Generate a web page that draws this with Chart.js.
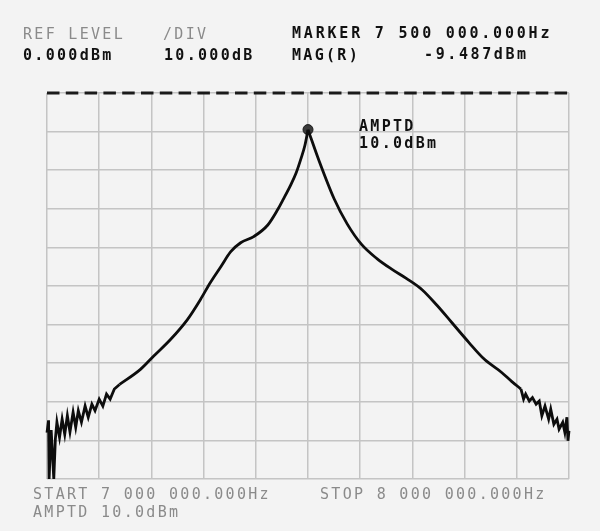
<!DOCTYPE html>
<html>
<head>
<meta charset="utf-8">
<script src="https://cdn.jsdelivr.net/npm/chart.js@4/dist/chart.umd.min.js"></script>
<style>
  html, body { margin: 0; padding: 0; background: #f3f3f3; }
  #wrap { position: relative; width: 600px; height: 531px; }
  canvas { position: absolute; left: 0; top: 0; }
  .t { position: absolute; font-family: "DejaVu Sans Mono", monospace; font-size: 15px;
       letter-spacing: 2.3px; line-height: 1; white-space: pre; }
  .g { color: #8a8a8a; }
  .k { color: #111; font-weight: bold; }
</style>
</head>
<body>
<div id="wrap">
  <canvas id="c" width="600" height="531"></canvas>
  <div class="t g" style="left:23px;top:27px">REF LEVEL</div>
  <div class="t k" style="left:23px;top:48px">0.000dBm</div>
  <div class="t g" style="left:163px;top:27px">/DIV</div>
  <div class="t k" style="left:164px;top:48px">10.000dB</div>
  <div class="t k" style="left:292px;top:26px;letter-spacing:2.8px">MARKER 7 500 000.000Hz</div>
  <div class="t k" style="left:292px;top:48px">MAG(R)</div>
  <div class="t k" style="left:424px;top:47px;letter-spacing:2.6px">-9.487dBm</div>
  <div class="t k" style="left:359px;top:119px">AMPTD</div>
  <div class="t k" style="left:359px;top:136px">10.0dBm</div>
  <div class="t g" style="left:33px;top:487px">START 7 000 000.000Hz</div>
  <div class="t g" style="left:320px;top:487px">STOP 8 000 000.000Hz</div>
  <div class="t g" style="left:33px;top:505px">AMPTD 10.0dBm</div>
</div>
<script>
// ── Datos (frecuencia en MHz, nivel en dBm) ─────────────────────────────
// ruido a la izquierda
const noiseLeftF = [
  7.000, 7.003, 7.004, 7.008, 7.013, 7.016, 7.019, 7.024, 7.029, 7.034,
  7.039, 7.044, 7.050, 7.055, 7.060, 7.066, 7.073, 7.079, 7.086, 7.092,
  7.100, 7.107, 7.114, 7.121, 7.129, 7.139
];
const noiseLeftDb = [
  -88.0, -84.8, -100, -87.3, -100, -89.7, -85.3, -89.2, -84.5, -88.4,
  -83.6, -87.8, -82.7, -86.6, -82.3, -85.3, -81.1, -84.0, -80.6, -82.3,
  -79.3, -81.1, -78.0, -79.3, -76.7, -75.5
];
// flanco de subida hasta el pico
const riseF = [
  7.139, 7.179, 7.204, 7.237, 7.269, 7.294, 7.313, 7.333, 7.352, 7.371,
  7.396, 7.423, 7.442, 7.452, 7.467, 7.477, 7.487, 7.494, 7.500
];
const riseDb = [
  -75.5, -71.6, -68.2, -63.8, -58.7, -53.5, -49.1, -45.0, -41.1, -38.8,
  -37.2, -34.2, -30.2, -27.7, -23.8, -20.8, -16.8, -13.6, -9.5
];
// flanco de bajada
const fallF = [
  7.500, 7.521, 7.550, 7.575, 7.603, 7.632, 7.661, 7.689, 7.718, 7.747,
  7.775, 7.808, 7.838, 7.871, 7.890, 7.908
];
const fallDb = [
  -9.5, -17.5, -27.4, -33.9, -39.3, -42.9, -45.7, -48.1, -50.9, -55.0,
  -59.4, -64.6, -69.0, -72.4, -74.7, -76.7
];
// ruido a la derecha
const noiseRightF = [
  7.908, 7.913, 7.917, 7.924, 7.930, 7.937, 7.943, 7.948, 7.954, 7.961,
  7.965, 7.971, 7.977, 7.981, 7.988, 7.992, 7.996, 7.998, 8.000
];
const noiseRightDb = [
  -76.7, -79.3, -78.0, -79.8, -78.9, -80.6, -79.8, -83.6, -81.1, -84.5,
  -81.9, -85.8, -84.5, -87.1, -85.3, -87.9, -84.0, -90.1, -87.5
];

const refLevel = 0;
const marker = { f: 7.5, level: -9.487 };
const startF = 7.0, stopF = 8.0;
const dbPerDiv = 10, divs = 10;

const pts = (fs, ds) => fs.map((f, i) => ({ x: f, y: ds[i] }));

const traceStyle = { borderColor: '#0d0d0d', borderWidth: 2.8, pointRadius: 0, clip: false };

new Chart(document.getElementById('c'), {
  type: 'line',
  data: {
    datasets: [
      { label: 'ref', data: [{ x: startF, y: refLevel }, { x: stopF, y: refLevel }],
        borderColor: '#1a1a1a', borderWidth: 3, borderDash: [12.5, 6.3], pointRadius: 0, clip: false },
      { label: 'ruidoIzq', data: pts(noiseLeftF, noiseLeftDb), tension: 0, ...traceStyle },
      { label: 'subida', data: pts(riseF, riseDb), cubicInterpolationMode: 'monotone', ...traceStyle },
      { label: 'bajada', data: pts(fallF, fallDb), cubicInterpolationMode: 'monotone', ...traceStyle },
      { label: 'ruidoDer', data: pts(noiseRightF, noiseRightDb), tension: 0, ...traceStyle },
      { label: 'marker', data: [{ x: marker.f, y: marker.level }], pointRadius: 5,
        pointBackgroundColor: '#3a3a3a', pointBorderColor: '#1a1a1a', showLine: false, clip: false }
    ]
  },
  options: {
    responsive: false,
    animation: false,
    layout: { padding: { left: 47, right: 31, top: 93, bottom: 52 } },
    plugins: { legend: { display: false }, tooltip: { enabled: false } },
    scales: {
      x: { type: 'linear', min: startF, max: stopF,
        ticks: { display: false, stepSize: (stopF - startF) / divs },
        grid: { color: '#c4c4c4', lineWidth: 1.5, drawTicks: false },
        border: { display: false } },
      y: { min: refLevel - dbPerDiv * divs, max: refLevel,
        ticks: { display: false, stepSize: dbPerDiv },
        grid: { color: '#c4c4c4', lineWidth: 1.5, drawTicks: false },
        border: { display: false } }
    }
  }
});
</script>
</body>
</html>
